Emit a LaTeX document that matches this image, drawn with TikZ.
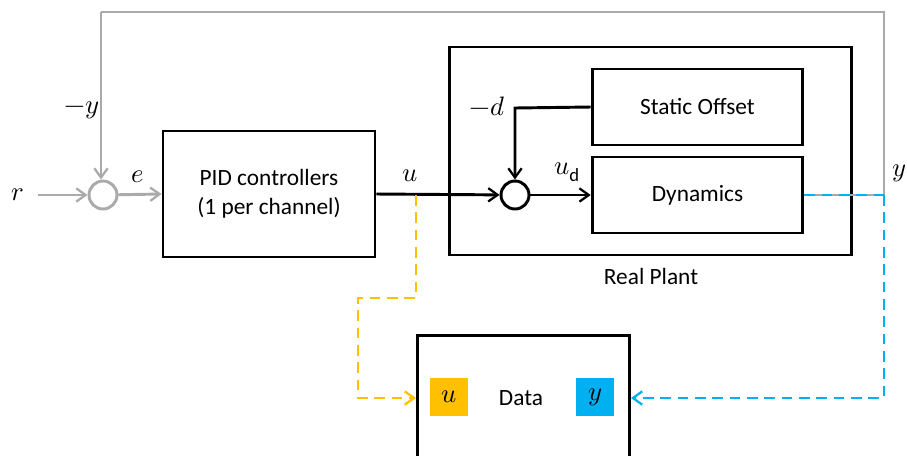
\documentclass[tikz,border=0pt]{standalone}
\usepackage{fontspec}
\setmainfont{Carlito}
\usepackage{unicode-math}
\usetikzlibrary{arrows.meta}
\definecolor{fbgray}{RGB}{170,170,170}
\definecolor{uorange}{RGB}{255,192,0}
\definecolor{yblue}{RGB}{0,176,240}
\begin{document}
\begin{tikzpicture}[x=0.75pt,y=-0.75pt,
  blk/.style={draw=black,line width=2.2pt,inner sep=0pt,font=\fontsize{17.5}{21.5}\selectfont,align=center},
  sumc/.style={circle,draw,line width=2.2pt,minimum size=21pt,inner sep=0pt},
  lbl/.style={font=\fontsize{20}{24}\selectfont,inner sep=0pt},
  txt/.style={font=\fontsize{17.5}{21}\selectfont,inner sep=0pt},
  tip/.style={-{Straight Barb[length=7pt,width=10pt,line width=1.7pt]}},
  sig/.style={line width=2.2pt,tip},
  gsig/.style={sig,draw=fbgray},
  dsh/.style={line width=2.2pt,dash pattern=on 8pt off 5pt}]
\useasboundingbox (0,0) rectangle (907,455);
% blocks
\node[blk,minimum width=159pt,minimum height=94.5pt] (pid) at (269,194) {PID controllers\\(1 per channel)};
\node[blk,minimum width=302pt,minimum height=156pt] (plant) at (650.5,151) {};
\node[blk,minimum width=158pt,minimum height=57pt] (off) at (697.5,107) {Static Offset};
\node[blk,minimum width=158pt,minimum height=57pt] (dyn) at (697.5,195) {Dynamics};
\node[blk,minimum width=159pt,minimum height=120pt,anchor=north west] (data) at (416,334) {};
\node[txt] (datat) at (521,398) {Data};
\node[fill=uorange,minimum size=28.5pt,inner sep=0pt] (usq) at (449,397) {\fontsize{20}{24}\selectfont$u$};
\node[fill=yblue,minimum size=28.5pt,inner sep=0pt] (ysq) at (595,397) {\fontsize{20}{24}\selectfont$y$};
\node[txt] (rp) at (651,276) {Real Plant};
% sums
\node[sumc,draw=fbgray] (s1) at (103,195) {};
\node[sumc] (s2) at (515,195) {};
% labels
\node[lbl] (r) at (18,195) {$r$};
\node[lbl] (my) at (82,110) {$-y$};
\node[lbl] (e) at (138,177) {$e$};
\node[lbl] (u) at (410,176) {$u$};
\node[lbl] (md) at (487,106) {$-d$};
\node[lbl] (ud) at (567,172) {$u_{\mathrm{d}}$};
\node[lbl] (yl) at (899,173) {$y$};
% coordinates
\coordinate (rs) at (38,195);
\coordinate (ytap) at (884,195);
\coordinate (ftr) at (884,12);
\coordinate (ftl) at (101,12);
\coordinate (utap) at (416,195);
\coordinate (o1) at (416,298);
\coordinate (o2) at (358,298);
\coordinate (o3) at (358,398);
\coordinate (b1) at (884,398);
\coordinate (dtop) at (515,108);
% gray feedback
\draw[gsig] (rs) -- (s1);
\draw[gsig] (s1) -- (pid.west);
\draw[line width=2.2pt,draw=fbgray] (dyn.east) -- (ytap) -- (ftr) -- (ftl);
\draw[gsig] (ftl) -- (ftl |- s1.north);
% black signals
\draw[sig] (pid.east) -- (s2);
\draw[sig] (off.west) -- (dtop) -- (s2);
\draw[sig] (s2) -- (dyn.west);
% dashed measurement lines
\draw[dsh,draw=yblue] (dyn.east) -- (ytap);
\draw[dsh,draw=yblue,tip] (ytap) -- (b1) -- (data.east |- b1);
\draw[dsh,draw=uorange,tip] (utap) -- (o1) -- (o2) -- (o3) -- (data.west |- o3);
\end{tikzpicture}
\end{document}
